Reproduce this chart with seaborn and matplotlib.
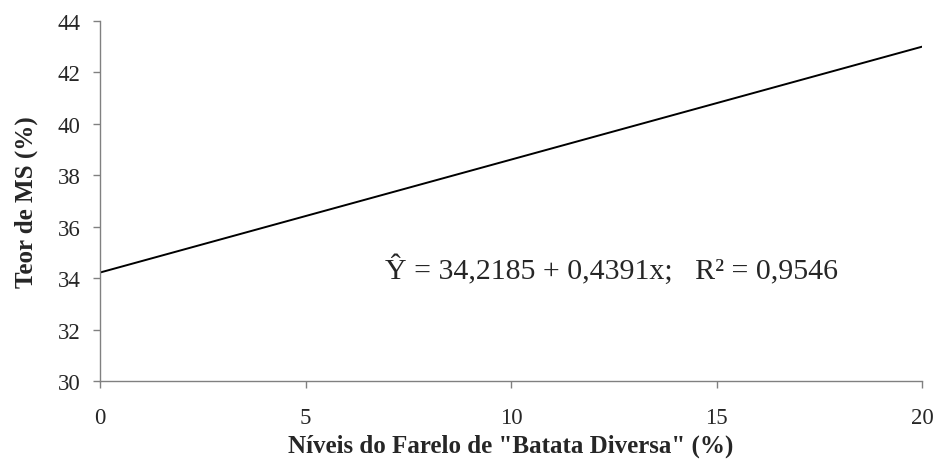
import matplotlib
matplotlib.use("Agg")
import matplotlib.pyplot as plt
import seaborn as sns
import pandas as pd

# levels of "Batata Diversa" meal (%) and fitted DM content (%)
niveis = [0, 5, 10, 15, 20]
teor_ms = [34.2185, 36.4140, 38.6095, 40.8050, 43.0005]
x_ticks = [0, 5, 10, 15, 20]
y_ticks = [30, 32, 34, 36, 38, 40, 42, 44]
equacao = "Ŷ = 34,2185 + 0,4391x;   R² = 0,9546"

sns.set_style("white")
plt.rcParams["font.family"] = ["Liberation Serif", "DejaVu Serif"]

df = pd.DataFrame({"nivel": niveis, "teor": teor_ms})

fig = plt.figure(figsize=(9.41, 4.64), dpi=100)
ax = fig.add_axes([0.1063, 0.1767, 0.8735, 0.7759])

sns.lineplot(x="nivel", y="teor", data=df, color="black", linewidth=1.4, ax=ax)

ax.set_xlim(0, 20)
ax.set_ylim(30, 44)
ax.set_xticks(x_ticks)
ax.set_yticks(y_ticks)
ax.tick_params(axis="both", direction="out", length=5, width=1, color="#808080",
               labelsize=16.5, bottom=True, left=True)
ax.tick_params(axis="x", pad=14)
ax.tick_params(axis="y", pad=9)

sns.despine(ax=ax)
for side in ["left", "bottom"]:
    ax.spines[side].set_color("#808080")
    ax.spines[side].set_linewidth(1)

ax.set_xlabel('Níveis do Farelo de "Batata Diversa" (%)', fontsize=18,
              fontweight="bold", labelpad=4)
ax.set_ylabel("Teor de MS (%)", fontsize=18, fontweight="bold", labelpad=14)

ax.text(0.347, 0.311, equacao, transform=ax.transAxes, fontsize=21.5, va="center")

fig.savefig("out.png", dpi=100)
